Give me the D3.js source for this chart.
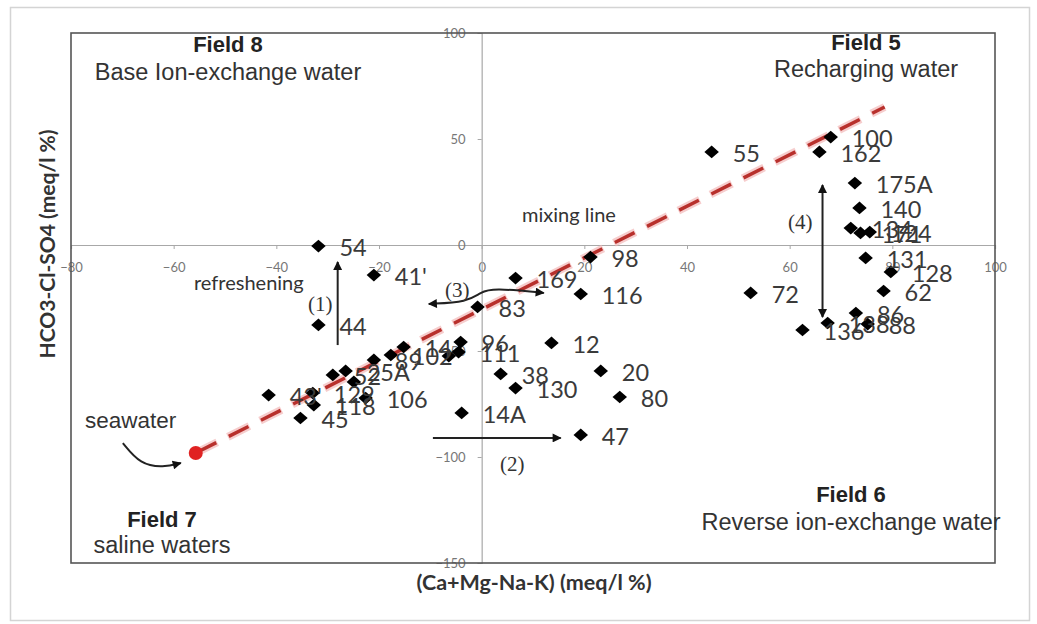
<!DOCTYPE html>
<html><head><meta charset="utf-8">
<script src="https://cdn.jsdelivr.net/npm/d3@7"></script>
<style>body{margin:0;background:#fff}svg{display:block}</style>
</head><body>
<svg id="c" width="1037" height="624"></svg>
<script>
// ---- data ----
const sampleIds = ["54","41'","44","83","169","98","116","55","100","162","175A","140","134","171","124","131","128","62","72","86","136","138","88","12","20","80","47","38","130","14A","96","111","14","102","89","52","25A","106","129","118","43'","45","",""];
const xValues = [-31.8,-21.0,-31.8,-0.8,6.6,21.2,19.3,44.8,68.0,65.8,72.7,73.6,71.9,73.8,75.6,74.8,79.7,78.3,52.4,72.9,62.5,67.4,75.2,13.6,23.2,26.9,19.3,3.7,6.6,-3.9,-4.1,-4.5,-15.2,-17.7,-21.0,-29.0,-26.5,-22.6,-32.9,-32.7,-41.5,-35.3,-6.4,-24.9];
const yValues = [-0.5,-14.2,-37.7,-29.2,-15.6,-5.7,-23.1,43.9,50.9,43.9,29.2,17.5,8.0,5.7,6.1,-6.1,-12.7,-21.7,-22.6,-32.1,-40.1,-36.8,-37.3,-46.2,-59.4,-71.7,-89.6,-60.8,-67.5,-79.2,-45.8,-50.5,-48.1,-51.9,-54.2,-61.3,-59.4,-72.2,-69.8,-75.5,-70.8,-81.6,-52.4,-64.6];
const seawater = [-55.7, -98.1];
const mixingLineEnd = [78.5, 65.1];
const xTicks = [-80,-60,-40,-20,0,20,40,60,80,100];
const yTicks = [-150,-100,-50,0,50,100];
const xTitle = "(Ca+Mg-Na-K) (meq/l %)";
const yTitle = "HCO3-Cl-SO4 (meq/l %)";
const fieldTitles = ["Field 8","Field 5","Field 7","Field 6"];
const fieldSubtitles = ["Base Ion-exchange water","Recharging water","saline waters","Reverse ion-exchange water"];
// annotation arrows in data units
const arrow1 = [[-28.05,-47.2],[-28.05,-8.0]];
const arrow2 = [[-9.5,-91.0],[15.4,-91.0]];
const arrow3 = [[-10.3,-27.8],[-2.7,-26.9],[-0.2,-22.2],[2.3,-20.3],[12.1,-22.6]];
const arrow4 = [[66.4,28.3],[66.4,-34.0]];
const seaArrow = [[-69.9,-93.4],[-66.5,-103.5],[-62,-105],[-58.6,-102.8]];

// ---- chart ----
const svg = d3.select("#c");
const x = d3.scaleLinear().domain([-80,100]).range([71,995]);
const y = d3.scaleLinear().domain([-150,100]).range([563,33]);

svg.append("rect").attr("x",10.5).attr("y",7.5).attr("width",1019).attr("height",613)
  .attr("fill","#fff").attr("stroke","#d4d4d4").attr("stroke-width",1.5);

// axes through origin
const gx = svg.append("g").attr("transform",`translate(0,${y(0)})`)
  .call(d3.axisBottom(x).tickValues(xTicks).tickSize(4).tickFormat(d3.format("d")));
const gy = svg.append("g").attr("transform",`translate(${x(0)},0)`)
  .call(d3.axisLeft(y).tickValues(yTicks).tickSize(4).tickFormat(d3.format("d")));
[gx,gy].forEach(g=>{
  g.select(".domain").attr("stroke","#a8a8a8").attr("stroke-width",1.2);
  g.selectAll(".tick line").attr("stroke","#a8a8a8");
  g.selectAll(".tick text").attr("fill","#777").attr("font-family","Lato, sans-serif").attr("font-size",13);
});
gx.selectAll(".tick text").attr("dy","1.5em");
gy.selectAll(".tick text").attr("x",-16);

// frame
svg.append("rect").attr("x",x(-80)).attr("y",y(100)).attr("width",x(100)-x(-80)).attr("height",y(-150)-y(100))
  .attr("fill","none").attr("stroke","#555").attr("stroke-width",1.6);

// field texts
const fieldPos = [[228,52,80],[866,50,77],[162,527,553],[851,502,530]];
fieldTitles.forEach((t,i)=>{
  svg.append("text").attr("x",fieldPos[i][0]).attr("y",fieldPos[i][1]).attr("text-anchor","middle")
    .attr("font-family","'Liberation Sans', Arial, sans-serif").attr("font-weight","bold").attr("font-size",22)
    .attr("fill","#222").text(t);
  svg.append("text").attr("x",fieldPos[i][0]).attr("y",fieldPos[i][2]).attr("text-anchor","middle")
    .attr("font-family","'Liberation Sans', Arial, sans-serif").attr("font-size",23.5)
    .attr("fill","#333").text(fieldSubtitles[i]);
});

// axis titles
svg.append("text").attr("x",534).attr("y",590).attr("text-anchor","middle")
  .attr("font-family","Lato, sans-serif").attr("font-weight","bold").attr("font-size",21.5).attr("fill","#333").text(xTitle);
svg.append("text").attr("transform","translate(55,244) rotate(-90)").attr("text-anchor","middle")
  .attr("font-family","Lato, sans-serif").attr("font-weight","bold").attr("font-size",21).attr("fill","#333").text(yTitle);

// mixing line
const ml = [seawater, mixingLineEnd];
const lineGen = d3.line().x(d=>x(d[0])).y(d=>y(d[1]));
svg.append("path").attr("d",lineGen(ml)).attr("stroke","#f2b8b8").attr("stroke-width",8)
  .attr("stroke-dasharray","24,12").attr("fill","none").attr("opacity",0.7);
svg.append("path").attr("d",lineGen(ml)).attr("stroke","#b8302c").attr("stroke-width",3.5)
  .attr("stroke-dasharray","22,14").attr("stroke-dashoffset",-1).attr("fill","none");
svg.append("circle").attr("cx",x(seawater[0])).attr("cy",y(seawater[1])).attr("r",7).attr("fill","#e02222");

// markers
const defs = svg.append("defs");
defs.append("marker").attr("id","ah").attr("viewBox","0 0 10 10").attr("refX",9).attr("refY",5)
  .attr("markerWidth",11).attr("markerHeight",9).attr("markerUnits","userSpaceOnUse").attr("orient","auto-start-reverse")
  .append("path").attr("d","M0,0 L10,5 L0,10 Z").attr("fill","#111");

function arrow(pts, both, curve){
  const g = d3.line().x(d=>x(d[0])).y(d=>y(d[1])).curve(curve||d3.curveLinear);
  const p = svg.append("path").attr("d",g(pts)).attr("fill","none").attr("stroke","#222").attr("stroke-width",2)
    .attr("marker-end","url(#ah)");
  if(both) p.attr("marker-start","url(#ah)");
}
arrow(arrow1,false);
arrow(arrow2,false);
arrow(arrow3,true,d3.curveBasis);
arrow(arrow4,true);
arrow(seaArrow,false,d3.curveBasis);

// annotation texts
const ann = [["refreshening",194,290,"Lato, sans-serif",20],["mixing line",522,222,"Lato, sans-serif",20],["seawater",85,428,"'Liberation Sans', Arial, sans-serif",22.5]];
ann.forEach(a=>svg.append("text").attr("x",a[1]).attr("y",a[2]).attr("font-family",a[3]).attr("font-size",a[4]).attr("fill","#333").text(a[0]));
const paren = [["(1)",308,311],["(2)",500,471],["(3)",445,297],["(4)",788,229]];
paren.forEach(a=>svg.append("text").attr("x",a[1]).attr("y",a[2]).attr("font-family","'Liberation Serif', serif").attr("font-size",21).attr("fill","#333").text(a[0]));

// points
const pts = sampleIds.map((id,i)=>({id, x:xValues[i], y:yValues[i]}));
const sym = d3.symbol().type(d3.symbolSquare).size(95);
svg.append("g").selectAll("path").data(pts).join("path")
  .attr("d",sym).attr("transform",d=>`translate(${x(d.x)},${y(d.y)}) scale(1.05,0.92) rotate(45)`).attr("fill","#000");
svg.append("g").selectAll("text").data(pts).join("text")
  .attr("x",d=>x(d.x)+21).attr("y",d=>y(d.y)+10)
  .attr("font-family","Lato, sans-serif").attr("font-size",23.5).attr("fill","#3a3a3a").text(d=>d.id);
</script>
</body></html>
